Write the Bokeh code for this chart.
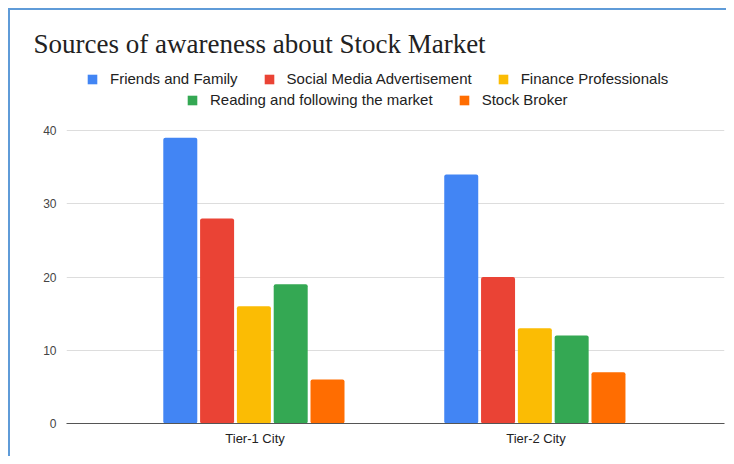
from bokeh.plotting import figure
from bokeh.models import FactorRange, Range1d, FixedTicker, Legend, LegendItem, ColumnDataSource
from bokeh.transform import dodge
from bokeh.embed import file_html
from bokeh.resources import INLINE

cities = ["Tier-1 City", "Tier-2 City"]
sources = ["Friends and Family", "Social Media Advertisement", "Finance Professionals",
           "Reading and following the market", "Stock Broker"]
friends_family = [39, 34]
social_media = [28, 20]
finance_professionals = [16, 13]
reading_market = [19, 12]
stock_broker = [6, 7]
y_ticks = [0, 10, 20, 30, 40]

colors = ["#4285f4", "#ea4335", "#fbbc04", "#34a853", "#ff6d01"]
keys = ["ff", "sm", "fp", "rm", "sb"]

src = ColumnDataSource(data=dict(city=cities, ff=friends_family, sm=social_media,
                                 fp=finance_professionals, rm=reading_market, sb=stock_broker))

# frame extends above the top tick so the legend rows sit inside it
y_top = max(y_ticks) * (423 - 62) / (423 - 130)

p = figure(x_range=FactorRange(factors=cities, range_padding=0.171),
           y_range=Range1d(0, y_top), width=718, height=448,
           output_backend="svg", toolbar_location=None,
           title="Sources of awareness about Stock Market",
           min_border_left=56, min_border_right=4, min_border_top=52, min_border_bottom=35)

step = 0.131
renderers = []
for i, (k, c) in enumerate(zip(keys, colors)):
    r = p.vbar(x=dodge("city", (i - 2) * step - 0.004, range=p.x_range), top=k, width=0.121,
               source=src, fill_color=c, line_color=None, border_radius=2)
    renderers.append(r)

common = dict(orientation="horizontal", glyph_width=12, glyph_height=12, label_height=15,
              label_standoff=12, spacing=25, padding=0, margin=0, border_line_color=None,
              background_fill_alpha=0, label_text_font="Liberation Sans",
              label_text_font_size="15px", label_text_color="#222222")
legend1 = Legend(items=[LegendItem(label=sources[i], renderers=[renderers[i]]) for i in range(3)],
                 location=(20, 336), **common)
legend2 = Legend(items=[LegendItem(label=sources[i], renderers=[renderers[i]]) for i in range(3, 5)],
                 location=(120, 315), **common)
p.add_layout(legend1)
p.add_layout(legend2)

p.title.text_font = "Liberation Serif"
p.title.text_font_size = "27px"
p.title.text_font_style = "normal"
p.title.text_color = "#222222"
p.title.align = "left"
p.title.offset = -33
p.title.standoff = 7

p.xgrid.grid_line_color = None
p.ygrid.grid_line_color = "#dddddd"
p.yaxis.ticker = FixedTicker(ticks=y_ticks)
p.yaxis.axis_line_color = None
p.yaxis.major_tick_line_color = None
p.yaxis.minor_tick_line_color = None
p.yaxis.major_tick_out = 0
p.yaxis.major_label_text_font = "Liberation Sans"
p.yaxis.major_label_text_font_size = "12px"
p.yaxis.major_label_text_color = "#444444"
p.yaxis.major_label_standoff = 10
p.xaxis.axis_line_color = "#555555"
p.xaxis.major_tick_line_color = None
p.xaxis.minor_tick_line_color = None
p.xaxis.major_tick_out = 0
p.xaxis.major_label_text_font = "Liberation Sans"
p.xaxis.major_label_text_font_size = "13px"
p.xaxis.major_label_text_color = "#222222"
p.xaxis.major_label_standoff = 7
p.outline_line_color = None
p.styles = {"margin-top": "10px", "margin-left": "10px",
            "box-shadow": "-2px -2px 0 0 #5f9bd8"}

open("out.html", "w").write(file_html(p, INLINE))
